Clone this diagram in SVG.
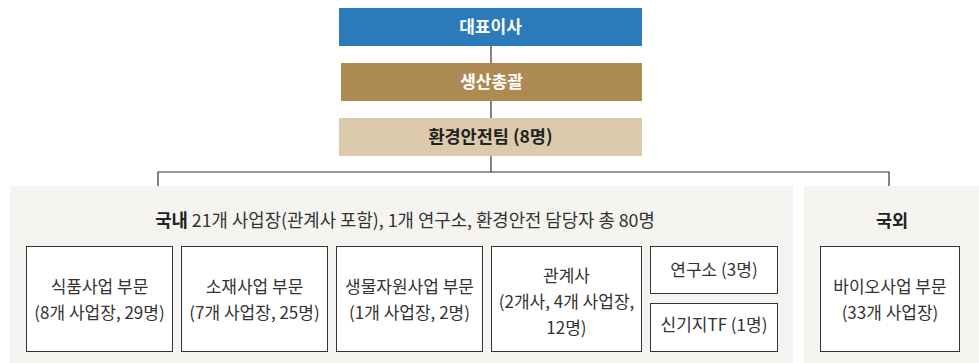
<svg xmlns="http://www.w3.org/2000/svg" width="979" height="363" viewBox="0 0 979 363">
<style>
text{font-family:"Noto Sans CJK KR","Noto Sans",sans-serif;text-anchor:middle}
.hd{font-size:17px;font-weight:bold;fill:#fff}
.hd2{font-size:17.5px;font-weight:bold;fill:#222}
.t{font-size:17px;fill:#333}
.tt{font-size:17.8px;fill:#333}
.bx{fill:#fff;stroke:#333;stroke-width:1}
.pn{fill:#f5f4f0}
.ln{stroke:#333;stroke-width:1.2;fill:none}
</style>
<g id="connectors">
<path class="ln" d="M491 46V63M491 101V118M491 156V172M158 186V172H889V186"/>
</g>
<g id="ceo"><rect x="339" y="8" width="303" height="38" fill="#2b7bbb"/><text class="hd" x="490.5" y="33">대표이사</text></g>
<g id="production"><rect x="341" y="63" width="301" height="38" fill="#ad8a52"/><text class="hd" x="491.5" y="88">생산총괄</text></g>
<g id="envteam"><rect x="339" y="118" width="303" height="38" fill="#dbcaab"/><text class="hd2" x="490.5" y="143">환경안전팀 (8명)</text></g>
<g id="domestic">
<rect class="pn" x="10" y="186" width="783" height="177"/>
<text class="tt" x="405" y="227"><tspan font-weight="bold" fill="#222">국내</tspan> 21개 사업장(관계사 포함), 1개 연구소, 환경안전 담당자 총 80명</text>
</g>
<g id="overseas">
<rect class="pn" x="804" y="186" width="175" height="177"/>
<text class="hd2" x="892" y="227">국외</text>
</g>
<g id="food"><rect class="bx" x="26.5" y="246.5" width="146" height="105"/><text class="t" x="99.5" y="293">식품사업 부문</text><text class="t" x="99.5" y="319">(8개 사업장, 29명)</text></g>
<g id="material"><rect class="bx" x="181.5" y="246.5" width="146" height="105"/><text class="t" x="254.5" y="293">소재사업 부문</text><text class="t" x="254.5" y="319">(7개 사업장, 25명)</text></g>
<g id="bio-res"><rect class="bx" x="336.5" y="246.5" width="146" height="105"/><text class="t" x="409.5" y="293">생물자원사업 부문</text><text class="t" x="409.5" y="319">(1개 사업장, 2명)</text></g>
<g id="affiliates"><rect class="bx" x="491.5" y="246.5" width="150" height="105"/><text class="t" x="566.5" y="282">관계사</text><text class="t" x="566.5" y="308">(2개사, 4개 사업장,</text><text class="t" x="566.5" y="334">12명)</text></g>
<g id="lab"><rect class="bx" x="650.5" y="246.5" width="127" height="47"/><text class="t" x="714" y="276">연구소 (3명)</text></g>
<g id="newbase"><rect class="bx" x="650.5" y="303.5" width="127" height="48"/><text class="t" x="714" y="331">신기지TF (1명)</text></g>
<g id="biobiz"><rect class="bx" x="820.5" y="246.5" width="139" height="105"/><text class="t" x="890" y="293">바이오사업 부문</text><text class="t" x="890" y="319">(33개 사업장)</text></g>
</svg>
